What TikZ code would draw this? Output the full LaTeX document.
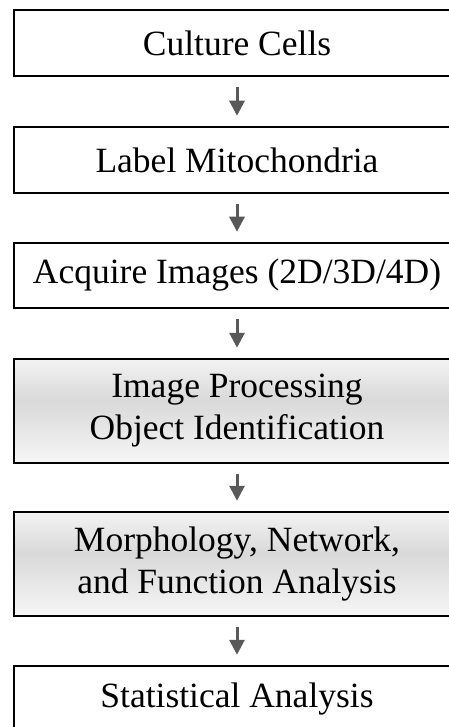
\documentclass[tikz,border=0pt]{standalone}
\usepackage{fontspec}
\setmainfont{Liberation Serif}
\usetikzlibrary{arrows.meta}
\definecolor{shA}{HTML}{F6F6F6}
\definecolor{shB}{HTML}{D9D9D9}
\definecolor{shC}{HTML}{F3F3F3}
\pgfdeclareverticalshading{boxshade}{100bp}{color(0bp)=(shA); color(25bp)=(shA); color(55bp)=(shB); color(75bp)=(shC); color(100bp)=(shC)}
\tikzset{
  basebox/.style={draw=black, line width=2.5pt, minimum width=446pt,
    inner sep=0pt, align=center, font=\fontsize{35.5}{42}\selectfont},
  stepbox/.style={basebox, fill=white},
  graybox/.style={basebox, shading=boxshade},
  flowarr/.style={draw=black!65, line width=3pt, -{Triangle[length=15pt,width=15pt]}}
}
\begin{document}
\begin{tikzpicture}[x=1pt,y=-1pt]
\useasboundingbox (0,0) rectangle (449,727);
\node[stepbox, minimum height=66pt] (b1) at (237,43) {Culture Cells};
\node[stepbox, minimum height=66pt] (b2) at (237,160) {Label Mitochondria};
\node[stepbox, minimum height=65pt] (b3) at (237,275.5) {Acquire Images (2D/3D/4D)};
\node[graybox, minimum height=104pt] (b4) at (237,411) {Image Processing\\Object Identification};
\node[graybox, minimum height=104pt] (b5) at (237,564) {Morphology, Network,\\and Function Analysis};
\node[stepbox, minimum height=66pt] (b6) at (237,699) {Statistical Analysis};
\foreach \a/\b in {b1/b2,b2/b3,b3/b4,b4/b5,b5/b6}{
  \draw[flowarr] ([yshift=-10pt]\a.south) -- ([yshift=10pt]\b.north);
}
\end{tikzpicture}
\end{document}
